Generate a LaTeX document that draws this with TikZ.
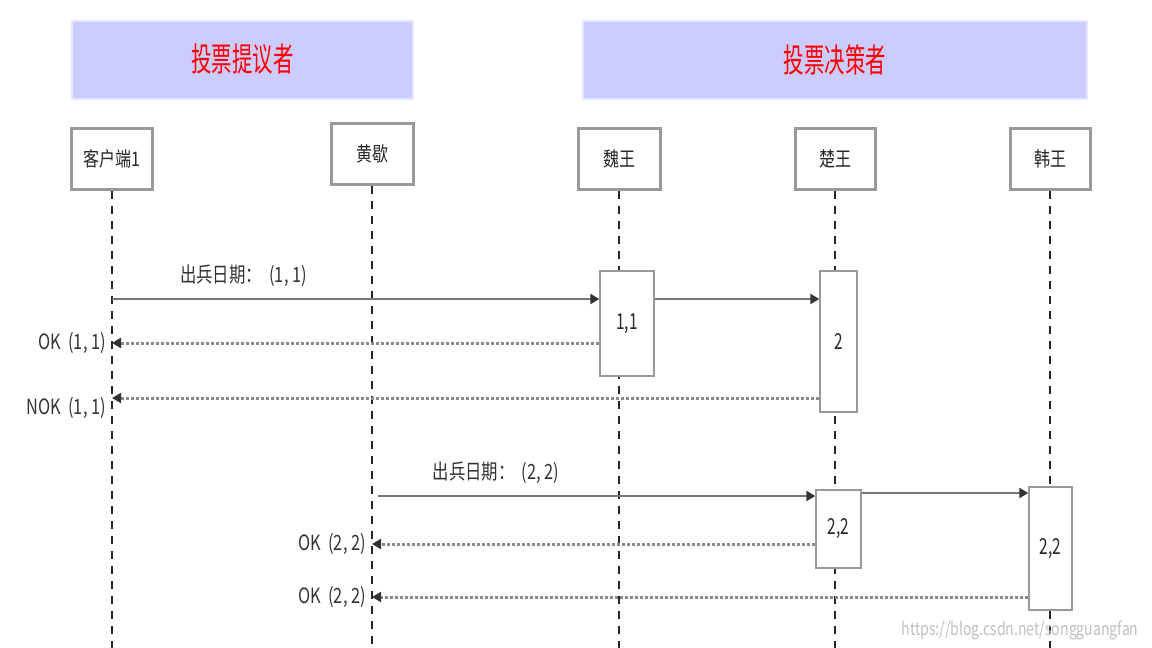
\documentclass[tikz,border=0pt]{standalone}
\usepackage{fontspec}
\usepackage{tikz}
\usetikzlibrary{arrows.meta,calc}
\newfontfamily\cjk{Noto Sans CJK SC}
\definecolor{grpfill}{HTML}{CCCCFF}
\definecolor{grpline}{HTML}{E6E6FF}
\definecolor{boxline}{HTML}{999999}
\definecolor{msgline}{HTML}{777777}
\definecolor{retline}{HTML}{8A8A8A}

\begin{document}
\begin{tikzpicture}[x=1pt,y=-1pt,
  group/.style={draw=grpline,line width=2pt,fill=grpfill,minimum height=78,
    font=\cjk\fontsize{33}{33}\selectfont,text=red,xscale=0.62},
  actor/.style={draw=boxline,line width=3pt,fill=white,minimum width=80/0.8,minimum height=61,
    font=\cjk\fontsize{20}{20}\selectfont,text=black!85,xscale=0.8},
  act/.style={draw=boxline,line width=2pt,fill=white,minimum width=#1/0.7,
    font=\cjk\fontsize{22}{22}\selectfont,text=black!85,xscale=0.7},
  lifeline/.style={line width=1.6pt,dash pattern=on 8pt off 7pt,black!85},
  msg/.style={line width=2.5pt,msgline,-{Triangle[length=9pt,width=10pt,black!80]}},
  reply/.style={line width=3pt,retline,dash pattern=on 3pt off 2pt,-{Triangle[length=9pt,width=10pt,black!80]}},
  lbl/.style={font=\cjk\fontsize{21}{21}\selectfont,text=black!80,xscale=0.78}]
  \useasboundingbox (0,0) rectangle (1152,648);
  % groups
  \node[group,minimum width=341/0.62] (propose) at (242.5,59.5) {投票提议者};
  \node[group,minimum width=504/0.62] (decide) at (835,59.5) {投票决策者};
  % actors
  \node[actor] (client) at (112,159) {客户端1};
  \node[actor,minimum width=82/0.8] (huang) at (372,154) {黄歇};
  \node[actor,minimum width=82/0.8] (wei) at (619,159) {魏王};
  \node[actor] (chu) at (835,159) {楚王};
  \node[actor] (han) at (1050,159) {韩王};
  % lifelines
  \foreach \n in {client,huang,wei,chu,han}
    \coordinate (\n-end) at (\n.south |- 0,648);
  \foreach \n in {client,huang,wei,chu,han}
    \draw[lifeline] (\n.south) -- (\n-end);
  % activations
  \node[act=54,minimum height=105] (wei1) at (627,323.5) {1,1};
  \node[act=37,minimum height=141] (chu1) at (838.5,341.5) {2};
  \node[act=45,minimum height=78] (chu2) at (838.5,529) {2,2};
  \node[act=43,minimum height=123] (han2) at (1050.5,548.5) {2,2};
  % round 1
  \draw[msg] (client |- 0,299) -- (wei1.west |- 0,299)
    node[lbl,pos=0.27,above=8pt] {出兵日期：\ \ (1,\ 1)};
  \draw[msg] (wei1.east |- 0,299) -- (chu1.west |- 0,299);
  \draw[reply] (wei1.west |- 0,343) -- (client |- 0,343)
    node[lbl,left=3pt] {OK\ \ (1,\ 1)};
  \draw[reply] (chu1.west |- 0,398) -- (client |- 0,398)
    node[lbl,left=3pt,yshift=-10pt] {NOK\ \ (1,\ 1)};
  % round 2
  \draw[msg,shorten <=6pt] (huang |- 0,496) -- (chu2.west |- 0,496)
    node[lbl,pos=0.28,above=8pt] {出兵日期：\ \ (2,\ 2)};
  \draw[msg] (chu2.east |- 0,493) -- (han2.west |- 0,493);
  \draw[reply] (chu2.west |- 0,544) -- (huang |- 0,544)
    node[lbl,left=3pt] {OK\ \ (2,\ 2)};
  \draw[reply] (han2.west |- 0,597) -- (huang |- 0,597)
    node[lbl,left=3pt] {OK\ \ (2,\ 2)};
  % watermark
  \node[font=\cjk\fontsize{18}{18}\selectfont,text=black!25,xscale=0.78] (mark) at (1020,630) {https://blog.csdn.net/songguangfan};
\end{tikzpicture}
\end{document}
